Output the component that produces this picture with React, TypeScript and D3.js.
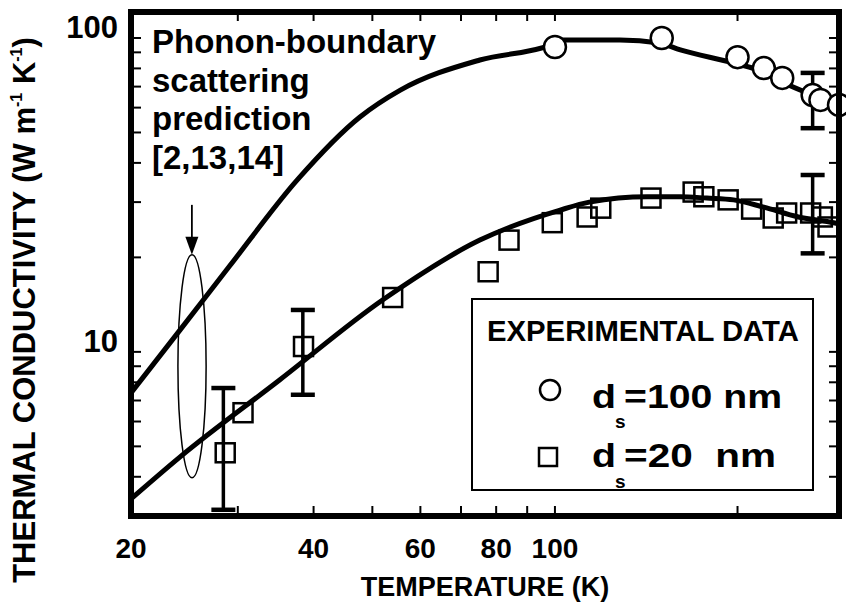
import React from "react";
import * as d3 from "d3";

// ---------- data ----------
const circleT = [100, 150, 200, 221, 237, 266, 274, 294];
const circleK = [93.6, 100, 86.9, 80.2, 74.6, 65.8, 63.5, 61.2];

const squareT = [28.6, 30.6, 38.5, 54, 77.6, 84, 99, 113, 119, 144, 169, 176, 193, 211, 229, 241, 264, 276, 282];
const squareK = [4.77, 6.4, 10.4, 14.9, 18.0, 22.7, 25.8, 26.9, 28.7, 30.9, 32.3, 31.2, 30.5, 28.5, 26.7, 27.7, 27.7, 26.9, 25.0];

const upperT = [20, 24.1, 29.1, 37.6, 47.7, 55.6, 75.2, 98.6, 103, 128, 148.6, 161, 197, 221, 237, 266, 294];
const upperK = [7.4, 11.75, 18.8, 35.3, 56.0, 68.2, 85.1, 95.1, 98.6, 98.6, 96.4, 91.6, 83.2, 77.9, 72.4, 65.8, 61.2];

const lowerT = [20, 24.1, 35.2, 51.9, 75.2, 102, 114, 142, 161, 178, 197, 221, 252, 288, 294];
const lowerK = [3.4, 4.63, 8.15, 14.6, 22.7, 28.3, 30.0, 31.2, 31.2, 30.9, 30.5, 28.9, 26.9, 25.8, 25.6];

const errT = [28.4, 38.4, 266, 266];
const errLo = [3.14, 7.3, 51.6, 20.6];
const errHi = [7.67, 13.6, 77.4, 36.6];

const xTickLabels = [20, 40, 60, 80, 100];
const xTicks = [30, 40, 50, 60, 70, 80, 90, 100, 200];
const yTickLabels = [10, 100];
const yTicks = [4, 5, 6, 7, 8, 9, 10, 20, 30, 40, 50, 60, 70, 80, 90, 100];

const noteLines = ["Phonon-boundary", "scattering", "prediction", "[2,13,14]"];
const ellipseT = [23.9, 26.6];
const ellipseK = [3.97, 20.4];
const arrowT = 25.2;
const arrowK = [29.4, 20.4];

const legendTitle = "EXPERIMENTAL DATA";
const legendRows = ["=100 nm", "=20  nm"];

// ---------- layout ----------
const W = 846;
const H = 604;
const M = { left: 131, right: 7, top: 12, bottom: 88 };
const FONT = "'Liberation Sans', Arial, Helvetica, sans-serif";

export default function App() {
  const x = d3.scaleLog().domain([20, 294]).range([M.left, W - M.right]);
  const y = d3.scaleLog().domain([3, 121]).range([H - M.bottom, M.top]);

  const line = d3
    .line<[number, number]>()
    .x((d) => x(d[0]))
    .y((d) => y(d[1]))
    .curve(d3.curveMonotoneX);

  const upper = line(upperT.map((t, i) => [t, upperK[i]]) as [number, number][]) || "";
  const lower = line(lowerT.map((t, i) => [t, lowerK[i]]) as [number, number][]) || "";

  const x0 = x(20);
  const x1 = x(294);
  const yTop = y(121);
  const yBot = y(3);

  const ex0 = x(ellipseT[0]);
  const ex1 = x(ellipseT[1]);
  const ey0 = y(ellipseK[1]);
  const ey1 = y(ellipseK[0]);
  const ax = x(arrowT);
  const ay0 = y(arrowK[0]);
  const ay1 = y(arrowK[1]);

  return (
    <svg
      width={W}
      height={H}
      style={{ position: "absolute", left: 0, top: 0, background: "#fff" }}
      fontFamily={FONT}
      fontWeight="bold"
    >
      <rect x={0} y={0} width={W} height={H} fill="#fff" />
      <defs>
        <clipPath id="plot">
          <rect x={x0} y={yTop} width={x1 - x0} height={yBot - yTop} />
        </clipPath>
      </defs>

      {/* ticks */}
      {xTicks.map((t) => (
        <g key={"xt" + t} stroke="#000" strokeWidth={2}>
          <line x1={x(t)} x2={x(t)} y1={yBot} y2={yBot - 10} />
          <line x1={x(t)} x2={x(t)} y1={yTop} y2={yTop + 9} />
        </g>
      ))}
      {yTicks.map((t) => (
        <g key={"yt" + t} stroke="#000" strokeWidth={2}>
          <line x1={x0} x2={x0 + 10} y1={y(t)} y2={y(t)} />
          <line x1={x1} x2={x1 - 10} y1={y(t)} y2={y(t)} />
        </g>
      ))}

      {/* ellipse + arrow annotation */}
      <ellipse
        cx={(ex0 + ex1) / 2}
        cy={(ey0 + ey1) / 2}
        rx={(ex1 - ex0) / 2}
        ry={(ey1 - ey0) / 2}
        fill="none"
        stroke="#000"
        strokeWidth={1.5}
      />
      <line x1={ax} x2={ax} y1={ay0} y2={ay1 - 14} stroke="#000" strokeWidth={1.8} />
      <polygon points={`${ax - 6.5},${ay1 - 18} ${ax + 6.5},${ay1 - 18} ${ax},${ay1}`} fill="#000" />

      {/* curves */}
      <g clipPath="url(#plot)">
        <path d={upper} fill="none" stroke="#000" strokeWidth={5} strokeLinejoin="round" />
        <path d={lower} fill="none" stroke="#000" strokeWidth={5} strokeLinejoin="round" />
      </g>

      {/* error bars */}
      {errT.map((t, i) => (
        <g key={"e" + i} stroke="#000">
          <line x1={x(t)} x2={x(t)} y1={y(errLo[i])} y2={y(errHi[i])} strokeWidth={3.5} />
          <line x1={x(t) - 12} x2={x(t) + 12} y1={y(errLo[i])} y2={y(errLo[i])} strokeWidth={4.5} />
          <line x1={x(t) - 12} x2={x(t) + 12} y1={y(errHi[i])} y2={y(errHi[i])} strokeWidth={4.5} />
        </g>
      ))}

      {/* squares */}
      {squareT.map((t, i) => (
        <rect
          key={"s" + i}
          x={x(t) - 9.5}
          y={y(squareK[i]) - 9.5}
          width={19}
          height={19}
          fill="none"
          stroke="#000"
          strokeWidth={2.5}
        />
      ))}
      {/* circles */}
      {circleT.map((t, i) => (
        <circle key={"c" + i} cx={x(t)} cy={y(circleK[i])} r={11} fill="#fff" stroke="#000" strokeWidth={2.5} />
      ))}

      {/* frame */}
      <rect x={x0} y={yTop} width={x1 - x0} height={yBot - yTop} fill="none" stroke="#000" strokeWidth={6} />

      {/* tick labels */}
      {xTickLabels.map((t) => (
        <text key={"xl" + t} x={x(t)} y={yBot + 42} textAnchor="middle" fontSize={28}>
          {t}
        </text>
      ))}
      {yTickLabels.map((t) => (
        <text key={"yl" + t} x={118} y={y(t)} textAnchor="end" fontSize={31}>
          {t}
        </text>
      ))}

      {/* axis titles */}
      <text x={(x0 + x1) / 2} y={596} textAnchor="middle" fontSize={27}>
        TEMPERATURE (K)
      </text>
      <text transform="translate(35,310) rotate(-90)" textAnchor="middle" fontSize={31}>
        THERMAL CONDUCTIVITY (W m
        <tspan fontSize={16} dy={-13}>-1</tspan>
        <tspan dy={13}> K</tspan>
        <tspan fontSize={16} dy={-13}>-1</tspan>
        <tspan dy={13}>)</tspan>
      </text>

      {/* annotation text */}
      {noteLines.map((s, i) => (
        <text key={"n" + i} x={152} y={53 + i * 38.5} fontSize={33}>
          {s}
        </text>
      ))}

      {/* legend */}
      <rect x={472} y={299} width={341} height={191} fill="#fff" stroke="#000" strokeWidth={2} />
      <text x={487} y={341} fontSize={29.3}>
        {legendTitle}
      </text>
      <circle cx={550} cy={390} r={10} fill="#fff" stroke="#000" strokeWidth={2.5} />
      <text x={592} y={408} fontSize={34} textLength={24} lengthAdjust="spacingAndGlyphs">d</text>
      <text x={615} y={428} fontSize={19}>s</text>
      <text x={624} y={408} fontSize={34} textLength={158} lengthAdjust="spacingAndGlyphs">
        {legendRows[0]}
      </text>
      <rect x={539} y={448} width={18} height={18} fill="none" stroke="#000" strokeWidth={2.5} />
      <text x={592} y={467} fontSize={34} textLength={24} lengthAdjust="spacingAndGlyphs">d</text>
      <text x={615} y={488} fontSize={19}>s</text>
      <text
        x={624}
        y={467}
        fontSize={34}
        textLength={152}
        lengthAdjust="spacingAndGlyphs"
        style={{ whiteSpace: "pre" }}
      >
        {legendRows[1]}
      </text>
    </svg>
  );
}
